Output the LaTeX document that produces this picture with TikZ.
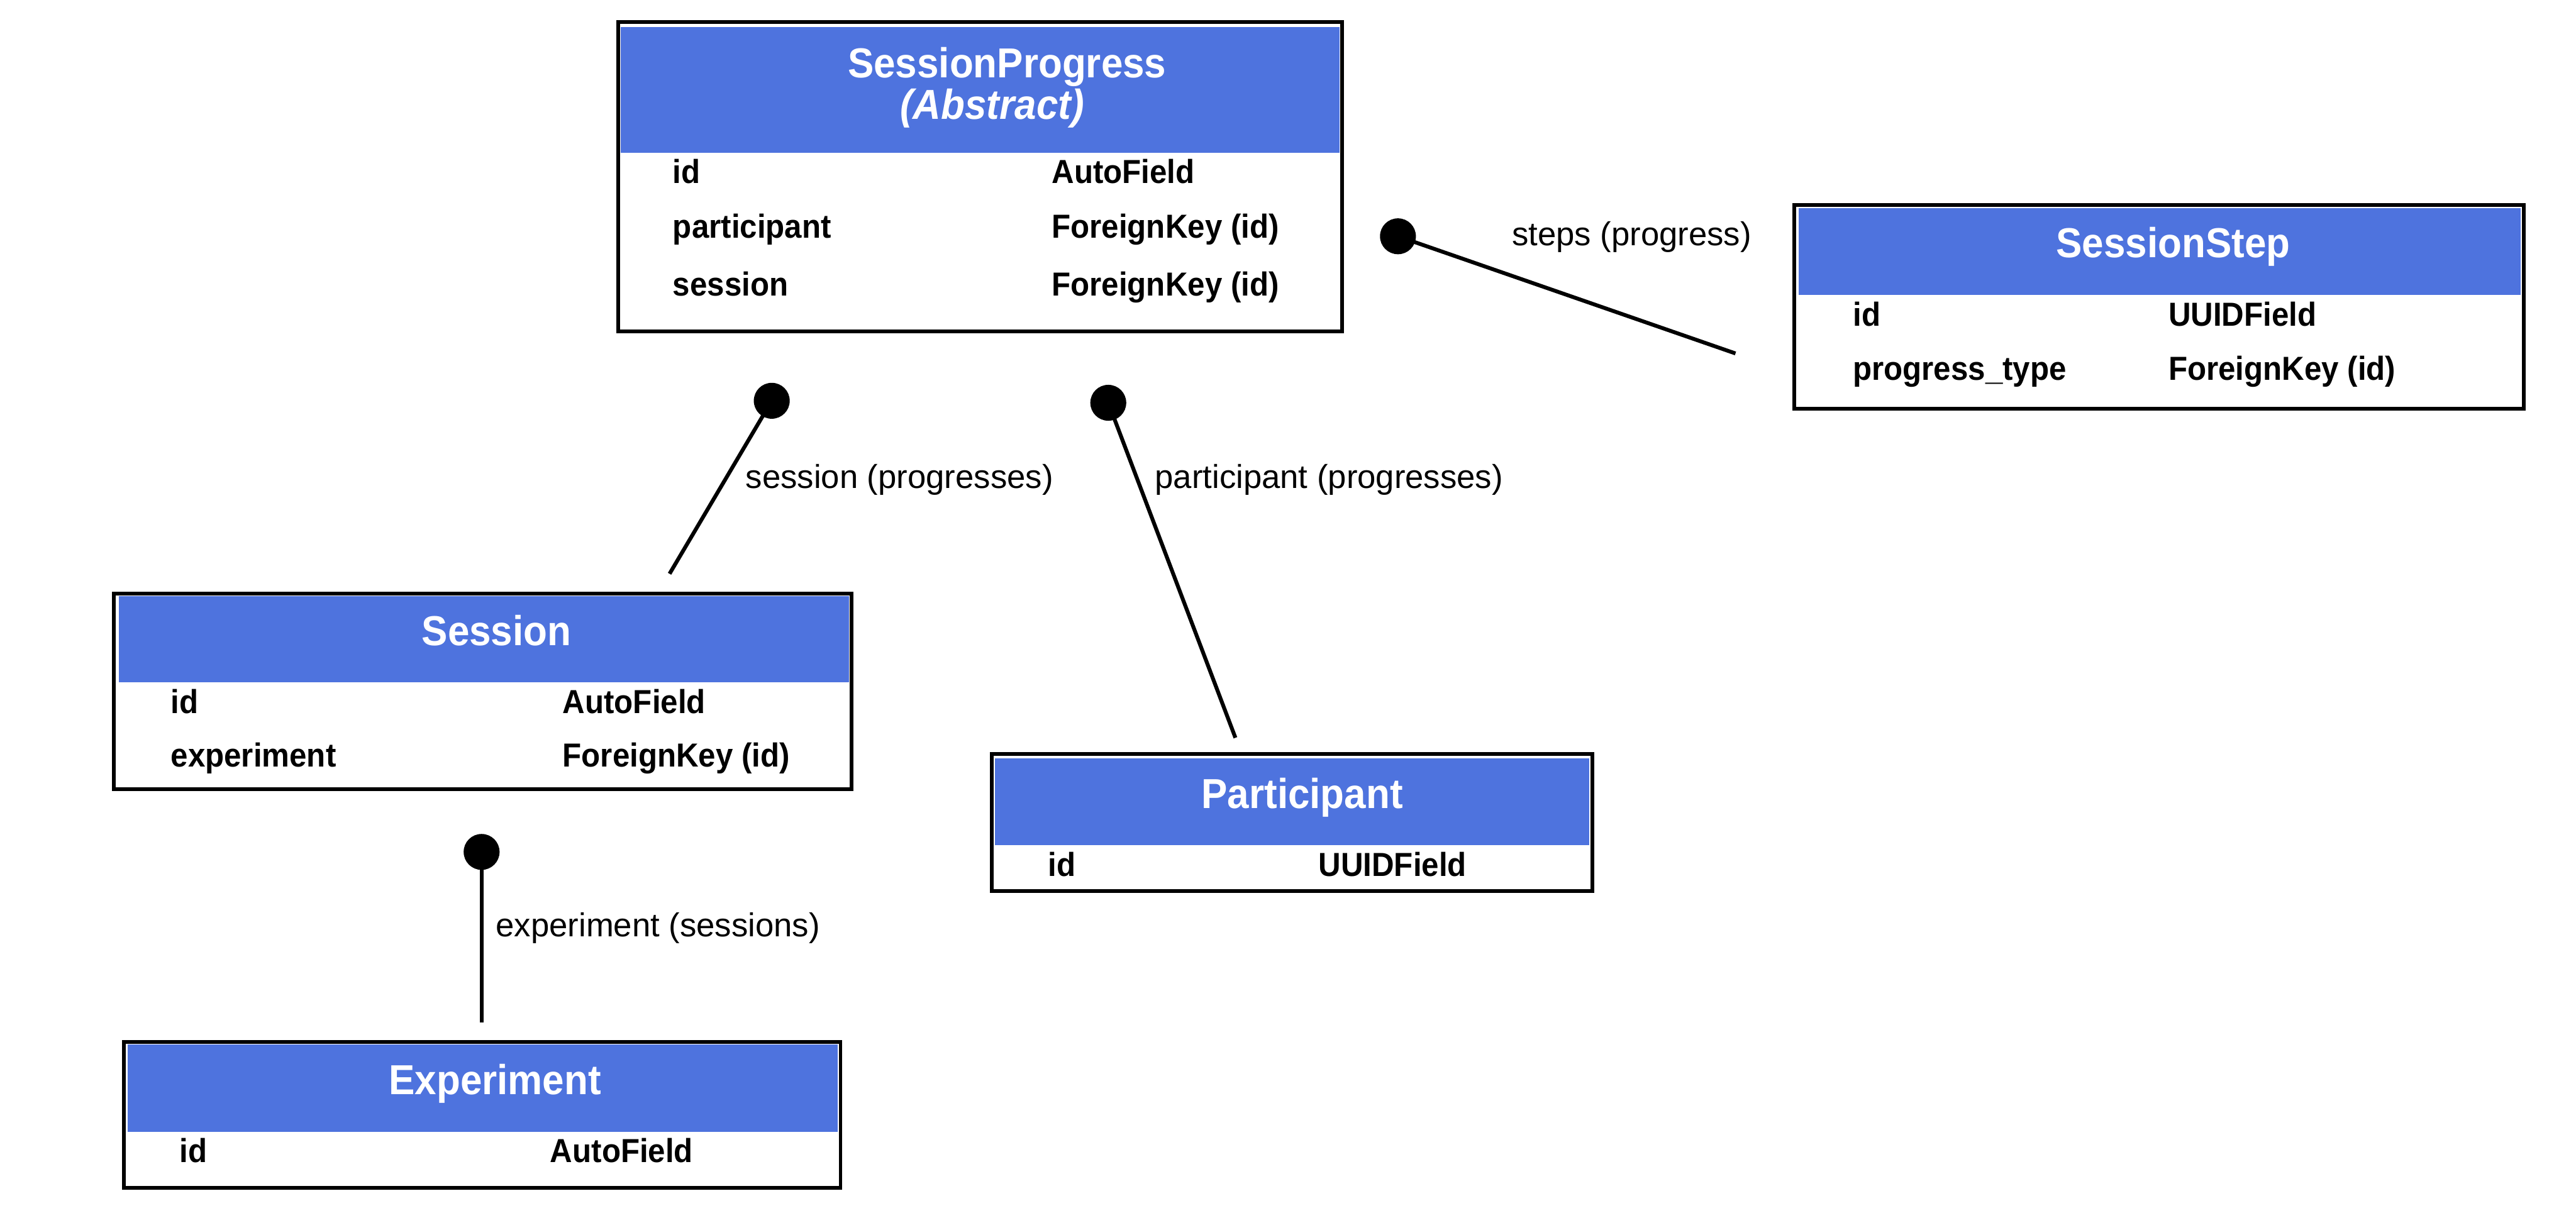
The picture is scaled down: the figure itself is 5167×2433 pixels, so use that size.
\documentclass[tikz,border=0pt]{standalone}
\usepackage{fontspec}
\setmainfont{Liberation Sans}
\newfontfamily\hdrfont[FakeStretch=0.93]{Liberation Sans}
\usetikzlibrary{fit}
\definecolor{hdrblue}{HTML}{4E73DE}
\tikzset{
  tablebox/.style={draw=black, line width=2.1pt, fill=white, inner sep=0pt},
  hdrbox/.style={fill=hdrblue, draw=none, inner sep=0pt},
  titletext/.style={text=white, inner sep=0pt, anchor=base, font=\hdrfont\fontsize{23.9}{28}\selectfont\bfseries},
  rowtext/.style={text=black, inner sep=0pt, anchor=base west, font=\hdrfont\fontsize{19}{23}\selectfont\bfseries},
  lbltext/.style={text=black, inner sep=0pt, anchor=base west, font=\fontsize{18.9}{22}\selectfont},
  dot/.style={circle, fill=black, draw=none, minimum size=0.72cm, inner sep=0pt},
  conn/.style={draw=black, line width=2.2pt}
}
\begin{document}
\begin{tikzpicture}[x=0.01cm, y=-0.01cm]
\useasboundingbox (0,0) rectangle (5167,2433);
\fill[white] (0,0) rectangle (5167,2433);
\begin{scope}[shift={(-4,-3)}]
% SessionProgress
\node[tablebox, fit={(1244,47) (2696,668)}] (sp) {};
\node[hdrbox, fit={(1249,57) (2691,310)}] (sph) {};
\node[titletext] (spt) at (2024,159) {SessionProgress};
\node[titletext, font=\hdrfont\fontsize{23.9}{28}\selectfont\bfseries\itshape] (spa) at (1994,242) {(Abstract)};
\node[rowtext] (sp1a) at (1353,371) {id};
\node[rowtext] (sp1b) at (2113,371) {AutoField};
\node[rowtext] (sp2a) at (1353,480) {participant};
\node[rowtext] (sp2b) at (2113,480) {ForeignKey (id)};
\node[rowtext] (sp3a) at (1353,596) {session};
\node[rowtext] (sp3b) at (2113,596) {ForeignKey (id)};

% SessionStep
\node[tablebox, fit={(3603,414) (5066,823)}] (ss) {};
\node[hdrbox, fit={(3612,421) (5060,595)}] (ssh) {};
\node[titletext] (sst) at (4363,520) {SessionStep};
\node[rowtext] (ss1a) at (3720,657) {id};
\node[rowtext] (ss1b) at (4353,657) {UUIDField};
\node[rowtext] (ss2a) at (3720,765) {progress\_type};
\node[rowtext] (ss2b) at (4353,765) {ForeignKey (id)};

% Session
\node[tablebox, fit={(232,1194) (1712,1586)}] (se) {};
\node[hdrbox, fit={(242,1199) (1707,1372)}] (seh) {};
\node[titletext] (set) at (1000,1298) {Session};
\node[rowtext] (se1a) at (346,1434) {id};
\node[rowtext] (se1b) at (1132,1434) {AutoField};
\node[rowtext] (se2a) at (346,1541) {experiment};
\node[rowtext] (se2b) at (1132,1541) {ForeignKey (id)};

% Participant
\node[tablebox, fit={(1993,1516) (3198,1791)}] (pa) {};
\node[hdrbox, fit={(2000,1524) (3192,1699)}] (pah) {};
\node[titletext] (pat) at (2616,1624) {Participant};
\node[rowtext] (pa1a) at (2106,1761) {id};
\node[rowtext] (pa1b) at (2648,1761) {UUIDField};

% Experiment
\node[tablebox, fit={(252,2093) (1690,2386)}] (ex) {};
\node[hdrbox, fit={(260,2098) (1684,2273)}] (exh) {};
\node[titletext] (ext) at (997,2198) {Experiment};
\node[rowtext] (ex1a) at (364,2335) {id};
\node[rowtext] (ex1b) at (1107,2335) {AutoField};

% Connectors
\node[dot] (d1) at (2808,477) {};
\coordinate (e1) at (3485,712);
\draw[conn] (d1.center) -- (e1);
\node[lbltext] (l1) at (3036,496) {steps (progress)};

\node[dot] (d2) at (1552,807) {};
\coordinate (e2) at (1347,1154);
\draw[conn] (d2.center) -- (e2);
\node[lbltext] (l2) at (1499,982) {session (progresses)};

\node[dot] (d3) at (2227,811) {};
\coordinate (e3) at (2482,1483);
\draw[conn] (d3.center) -- (e3);
\node[lbltext] (l3) at (2320,982) {participant (progresses)};

\node[dot] (d4) at (970,1712) {};
\coordinate (e4) at (970,2054);
\draw[conn] (d4.center) -- (e4);
\node[lbltext] (l4) at (998,1882) {experiment (sessions)};
\end{scope}
\end{tikzpicture}
\end{document}
